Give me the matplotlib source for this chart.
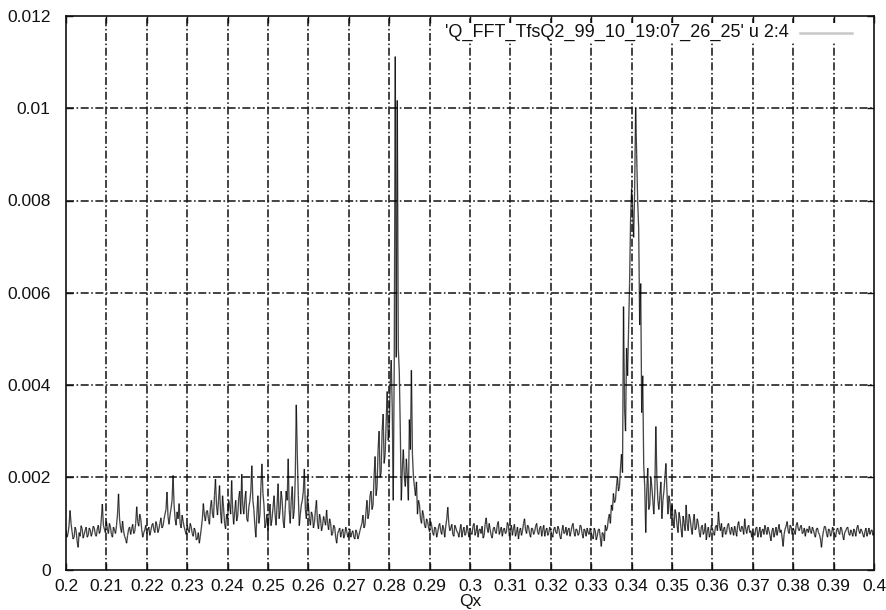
import numpy as np
import matplotlib
matplotlib.use("Agg")
import matplotlib.pyplot as plt
from matplotlib.collections import LineCollection
from matplotlib.lines import Line2D
from matplotlib.patches import Rectangle

# ---- data (amplitude in units of 1e-5) ----
# amp_e5: samples at Qx = 0.2, 0.2005, ..., 0.4
# amp_mid_e5: samples half-way between them (Qx = 0.20025, 0.20075, ...)
qx_start = 0.2
qx_stop = 0.4
amp_e5 = [
    # 0.20 - 0.21
    85, 78, 128, 82, 70, 84, 48, 72, 88, 76, 92, 74, 86, 80, 90, 72, 96, 84, 142, 88,
    # 0.21 - 0.22
    104, 78, 92, 70, 86, 95, 164, 90, 105, 72, 57, 88, 76, 98, 82, 136, 94, 110, 70, 86,
    # 0.22 - 0.23
    78, 92, 84, 100, 80, 96, 88, 112, 94, 120, 168, 98, 132, 204, 110, 125, 143, 90, 104, 84,
    # 0.23 - 0.24
    96, 80, 92, 72, 84, 66, 57, 90, 143, 105, 128, 98, 150, 112, 196, 118, 182, 100, 134, 88,
    # 0.24 - 0.25
    110, 140, 193, 98, 150, 116, 170, 207, 120, 170, 104, 148, 225, 130, 70, 160, 118, 229, 140, 100,
    # 0.25 - 0.26
    80, 142, 110, 160, 96, 186, 128, 150, 90, 170, 240, 100, 180, 130, 357, 160, 120, 150, 218, 110,
    # 0.26 - 0.27
    140, 96, 118, 102, 150, 88, 110, 94, 106, 129, 86, 100, 78, 92, 57, 84, 70, 88, 76, 82,
    # 0.27 - 0.28
    78, 70, 84, 66, 80, 74, 92, 118, 96, 150, 122, 170, 140, 245, 180, 300, 210, 337, 250, 386,
    # 0.28 - 0.29
    300, 454, 150, 1112, 1017, 428, 150, 260, 180, 200, 325, 432, 200, 160, 120, 140, 100, 118, 90, 104,
    # 0.29 - 0.30
    82, 96, 74, 90, 80, 100, 76, 88, 94, 135, 84, 98, 72, 90, 80, 86, 70, 92, 78, 84,
    # 0.30 - 0.31
    90, 76, 100, 82, 70, 88, 94, 74, 112, 80, 86, 68, 92, 78, 104, 84, 72, 90, 80, 96,
    # 0.31 - 0.32
    86, 74, 98, 80, 66, 90, 84, 110, 78, 92, 70, 88, 82, 100, 76, 94, 86, 72, 90, 80,
    # 0.32 - 0.33
    84, 70, 92, 78, 88, 66, 96, 80, 74, 90, 82, 100, 72, 86, 78, 94, 68, 84, 90, 76,
    # 0.33 - 0.34
    80, 66, 84, 72, 88, 50, 78, 96, 90, 120, 140, 165, 150, 200, 180, 250, 570, 300, 420, 620,
    # 0.34 - 0.35
    826, 720, 1000, 800, 530, 340, 225, 80, 220, 140, 180, 120, 310, 150, 160, 110, 170, 230, 120, 145,
    # 0.35 - 0.36
    140, 90, 120, 80, 110, 70, 100, 140, 84, 110, 76, 120, 90, 100, 70, 96, 82, 64, 92, 78,
    # 0.36 - 0.37
    88, 74, 96, 125, 84, 70, 92, 80, 100, 76, 86, 94, 72, 104, 82, 90, 110, 78, 96, 84,
    # 0.37 - 0.38
    86, 74, 92, 80, 70, 88, 96, 76, 84, 62, 90, 80, 74, 98, 86, 50, 88, 104, 78, 92,
    # 0.38 - 0.39
    90, 76, 102, 84, 96, 80, 72, 88, 94, 78, 86, 70, 90, 76, 48, 84, 92, 70, 86, 78,
    # 0.39 - 0.40
    82, 70, 90, 76, 88, 64, 84, 92, 74, 80, 88, 72, 96, 78, 84, 70, 90, 80, 76, 86,
    82,
]
amp_mid_e5 = [
    # 0.20 - 0.21
    70, 95, 100, 66, 92, 62, 80, 95, 68, 85, 70, 90, 72, 94, 76, 88, 78, 110, 96, 80,
    # 0.21 - 0.22
    88, 100, 76, 92, 78, 120, 110, 80, 84, 66, 74, 92, 88, 78, 100, 104, 120, 86, 80, 96,
    # 0.22 - 0.23
    86, 74, 96, 86, 104, 80, 100, 90, 108, 130, 115, 118, 150, 140, 96, 110, 100, 118, 92, 76,
    # 0.23 - 0.24
    86, 100, 78, 90, 64, 80, 72, 110, 118, 125, 110, 135, 120, 160, 140, 150, 125, 160, 100, 120,
    # 0.24 - 0.25
    150, 120, 130, 125, 105, 155, 120, 140, 150, 110, 135, 170, 150, 95, 120, 100, 180, 165, 90, 120,
    # 0.25 - 0.26
    115, 95, 135, 120, 140, 110, 170, 105, 130, 150, 130, 150, 110, 200, 250, 95, 140, 170, 130, 160,
    # 0.26 - 0.27
    110, 125, 90, 130, 100, 120, 84, 115, 96, 100, 110, 74, 96, 70, 78, 90, 82, 68, 92, 70,
    # 0.27 - 0.28
    88, 80, 70, 86, 66, 84, 100, 90, 125, 110, 160, 130, 200, 160, 260, 200, 300, 230, 320, 280,
    # 0.28 - 0.29
    400, 350, 450, 460, 480, 300, 220, 200, 240, 150, 260, 250, 180, 190, 150, 110, 128, 96, 110, 90,
    # 0.29 - 0.30
    104, 80, 92, 70, 94, 84, 96, 70, 110, 100, 90, 76, 96, 82, 70, 98, 84, 74, 96, 70,
    # 0.30 - 0.31
    80, 94, 74, 96, 86, 78, 68, 98, 90, 100, 74, 88, 82, 96, 76, 92, 86, 78, 102, 72,
    # 0.31 - 0.32
    96, 88, 72, 92, 84, 74, 100, 86, 96, 78, 90, 76, 94, 80, 90, 72, 96, 84, 74, 92,
    # 0.32 - 0.33
    76, 88, 80, 94, 72, 84, 78, 92, 86, 72, 94, 80, 88, 74, 96, 78, 88, 72, 80, 90,
    # 0.33 - 0.34
    72, 90, 64, 86, 70, 80, 62, 84, 110, 100, 128, 145, 180, 170, 220, 210, 350, 480, 520, 760,
    # 0.34 - 0.35
    780, 820, 900, 740, 620, 420, 180, 170, 130, 200, 150, 170, 200, 130, 190, 150, 200, 170, 160, 110,
    # 0.35 - 0.36
    110, 130, 96, 124, 88, 116, 84, 100, 120, 90, 104, 86, 110, 80, 92, 76, 100, 84, 70, 96,
    # 0.36 - 0.37
    80, 92, 84, 96, 100, 88, 76, 96, 84, 92, 74, 84, 96, 86, 94, 76, 88, 92, 80, 70,
    # 0.37 - 0.38
    78, 90, 70, 92, 84, 76, 86, 92, 74, 84, 70, 92, 86, 80, 70, 76, 94, 84, 96, 76,
    # 0.38 - 0.39
    84, 96, 88, 92, 78, 90, 86, 80, 84, 92, 76, 88, 80, 66, 70, 94, 78, 88, 72, 92,
    # 0.39 - 0.40
    76, 86, 80, 92, 74, 80, 90, 78, 86, 72, 82, 90, 84, 88, 76, 82, 72, 90, 84, 74,
]
amp_scale = 1e-5
x_ticks = [0.2, 0.21, 0.22, 0.23, 0.24, 0.25, 0.26, 0.27, 0.28, 0.29, 0.3,
           0.31, 0.32, 0.33, 0.34, 0.35, 0.36, 0.37, 0.38, 0.39, 0.4]
x_tick_labels = ["0.2", "0.21", "0.22", "0.23", "0.24", "0.25", "0.26", "0.27", "0.28", "0.29", "0.3",
                 "0.31", "0.32", "0.33", "0.34", "0.35", "0.36", "0.37", "0.38", "0.39", "0.4"]
y_ticks = [0, 0.002, 0.004, 0.006, 0.008, 0.01, 0.012]
y_tick_labels = ["0", "0.002", "0.004", "0.006", "0.008", "0.01", "0.012"]
legend_label = "'Q_FFT_TfsQ2_99_10_19:07_26_25' u 2:4"
x_label = "Qx"

# interleave the two sample sets into one trace
qx_main = np.linspace(qx_start, qx_stop, len(amp_e5))
n_mid = min(len(amp_mid_e5), len(amp_e5) - 1)
qx_mid = (qx_main[:-1] + qx_main[1:])[:n_mid] / 2
qx = np.concatenate([qx_main, qx_mid])
amp = np.concatenate([np.array(amp_e5), np.array(amp_mid_e5[:n_mid])]) * amp_scale
order = np.argsort(qx, kind='stable')
qx, amp = qx[order], amp[order]

plt.rcParams['font.family'] = ['Liberation Sans', 'DejaVu Sans']

W, H = 887, 610
fig = plt.figure(figsize=(W / 100, H / 100), dpi=100)
L, R, T, B = 66, 874, 16, 569.5
ax = fig.add_axes([L / W, (H - B) / H, (R - L) / W, (B - T) / H])

ax.set_xlim(0.2, 0.4)
ax.set_ylim(0, 0.012)

# grid
grid_style = dict(color='#1a1a1a', linewidth=1.15, linestyle=(0, (5, 1.6, 1.0, 1.6)), zorder=1)
for xv in x_ticks[1:-1]:
    ax.axvline(xv, **grid_style)
for yv in y_ticks[1:-1]:
    ax.axhline(yv, **grid_style)

# data trace
pts = np.column_stack([qx, amp])
segs = np.stack([pts[:-1], pts[1:]], axis=1)
lc = LineCollection(segs, colors=[(0, 0, 0, 0.72)], linewidths=0.95, zorder=3)
ax.add_collection(lc)

# ticks
ax.set_xticks(x_ticks)
ax.set_xticklabels(x_tick_labels)
ax.set_yticks(y_ticks)
ax.set_yticklabels(y_tick_labels)
ax.tick_params(axis='both', direction='in', length=5, width=1.0, top=True, right=True,
               labelsize=12.5, colors='#111111')
ax.tick_params(axis='x', pad=7)
ax.tick_params(axis='y', pad=11)
for sp in ax.spines.values():
    sp.set_linewidth(1.2)
    sp.set_color('#111111')
ax.set_xlabel(x_label, fontsize=12.5, labelpad=0, color='#111111')

# legend (gnuplot style: text then sample line, white background)
def ax_x(px):
    return (px - L) / (R - L)

def ax_y(py):
    return (B - py) / (B - T)

ax.add_patch(Rectangle((ax_x(432), ax_y(42)), ax_x(863) - ax_x(432), ax_y(23) - ax_y(42),
                       transform=ax.transAxes, facecolor='white', edgecolor='none', zorder=2))
ax.text(ax_x(789), ax_y(32.5), legend_label, transform=ax.transAxes, ha='right', va='center',
        fontsize=13, color='#111111', zorder=4)
ax.add_line(Line2D([ax_x(800), ax_x(852)], [ax_y(32.7), ax_y(32.7)], transform=ax.transAxes,
                   color='#c8c8c8', linewidth=1.8, zorder=4))

fig.savefig("out.png", dpi=100)
